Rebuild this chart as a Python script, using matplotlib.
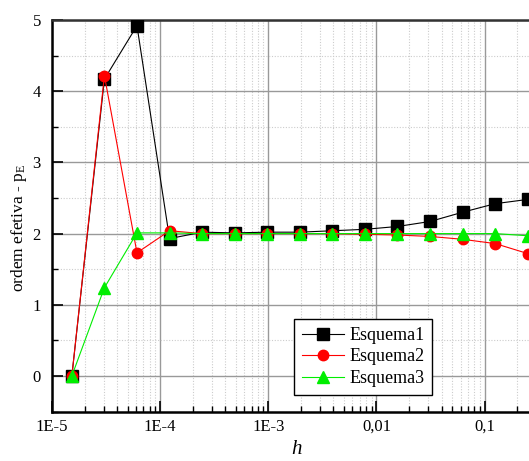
import numpy as np
import matplotlib
matplotlib.use("Agg")
import matplotlib.pyplot as plt
from matplotlib.ticker import FixedLocator, LogLocator, NullFormatter, MultipleLocator

# step sizes h = 2^-16 ... 2^-2
h = [2.0 ** -k for k in range(16, 1, -1)]

esquema1 = [0.0, 4.17, 4.92, 1.93, 2.02, 2.01, 2.02, 2.02, 2.04, 2.06,
            2.10, 2.17, 2.30, 2.42, 2.48]
esquema2 = [0.0, 4.22, 1.73, 2.04, 2.0, 2.0, 2.0, 2.0, 2.0, 1.99,
            1.98, 1.96, 1.92, 1.86, 1.72]
esquema3 = [0.0, 1.24, 2.01, 2.01, 2.0, 2.0, 2.0, 2.0, 2.0, 2.0,
            2.0, 2.0, 2.0, 2.0, 1.97]

xticks = [1e-5, 1e-4, 1e-3, 1e-2, 1e-1]
xticklabels = ["1E-5", "1E-4", "1E-3", "0,01", "0,1"]
yticks = [0, 1, 2, 3, 4, 5]

plt.rcParams['font.family'] = ['Liberation Serif', 'DejaVu Serif']
plt.rcParams['mathtext.fontset'] = 'custom'
plt.rcParams['mathtext.rm'] = 'Liberation Serif'
plt.rcParams['mathtext.it'] = 'Liberation Serif:italic'

W, H = 529, 461
fig = plt.figure(figsize=(W / 100, H / 100), dpi=100)
ax = fig.add_axes([52 / W, 1 - 411.6 / H, 490 / W, (411.6 - 20) / H])

ax.plot(h, esquema1, color="black", marker="s", markersize=8.5, lw=0.8,
        label="Esquema1", zorder=3)
ax.plot(h, esquema2, color="red", marker="o", markersize=7.5, lw=0.8,
        label="Esquema2", zorder=4)
ax.plot(h, esquema3, color="#00ee00", marker="^", markersize=9, lw=0.8,
        label="Esquema3", zorder=5)

ax.set_xscale("log")
ax.set_xlim(1e-5, 10 ** (-1 + 57 / 107.5))
ax.set_ylim(-0.5, 5)

ax.xaxis.set_major_locator(FixedLocator(xticks))
ax.set_xticklabels(xticklabels)
ax.xaxis.set_minor_locator(LogLocator(base=10, subs=np.arange(2, 10)))
ax.xaxis.set_minor_formatter(NullFormatter())
ax.set_yticks(yticks)
ax.yaxis.set_minor_locator(MultipleLocator(0.5))

ax.grid(True, which="major", color="#999999", lw=1.0)
ax.grid(True, which="minor", color="#cccccc", lw=0.8, ls=(0, (1, 1.5)))
ax.set_axisbelow(True)

ax.tick_params(which="major", direction="in", length=8, width=1.2,
               labelsize=12, colors="black", pad=8)
ax.tick_params(which="minor", direction="in", length=4, width=1.0)
ax.tick_params(axis="x", pad=5)

ax.spines["right"].set_visible(False)
ax.spines["top"].set_color("#333333")
for s in ["left", "bottom", "top"]:
    ax.spines[s].set_linewidth(1.8)

ax.set_xlabel("$h$", fontsize=15, labelpad=4)
ax.set_ylabel("ordem efetiva - p$_\\mathrm{E}$", fontsize=12.5)
ax.yaxis.set_label_coords(-23 / 490, 0.47)

leg = ax.legend(loc="lower left", bbox_to_anchor=((294 - 52) / 490, (411.6 - 395) / 391.6),
                fontsize=13, frameon=True, fancybox=False, edgecolor="black",
                framealpha=1, handlelength=2.3, borderpad=0.45, labelspacing=0.25,
                handletextpad=0.3, borderaxespad=0, markerscale=1.0)
leg.get_frame().set_linewidth(1.0)

fig.savefig("out.png", dpi=100)
